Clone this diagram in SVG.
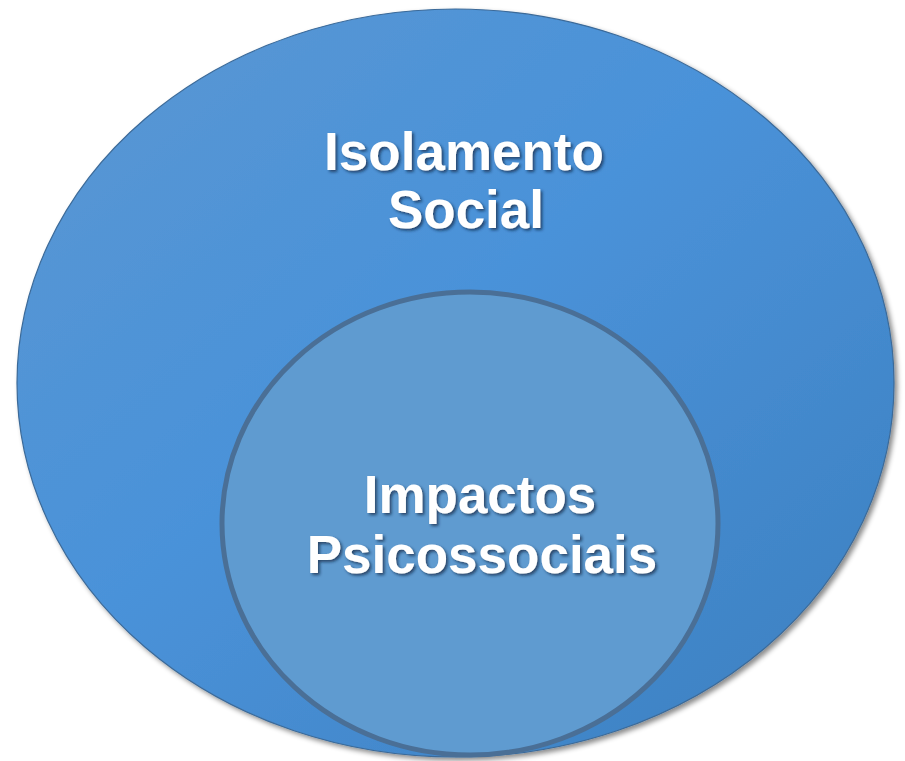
<svg xmlns="http://www.w3.org/2000/svg" width="905" height="761" viewBox="0 0 905 761">
  <defs>
    <linearGradient id="outerGrad" x1="0" y1="0" x2="1" y2="1">
      <stop offset="0" stop-color="#5a97d2"/>
      <stop offset="0.45" stop-color="#4a92d9"/>
      <stop offset="1" stop-color="#3c7fbf"/>
    </linearGradient>
    <filter id="shadow" x="-10%" y="-10%" width="120%" height="120%">
      <feDropShadow dx="3" dy="3" stdDeviation="2.5" flood-color="#000" flood-opacity="0.45"/>
    </filter>
    <filter id="textShadow" x="-10%" y="-20%" width="120%" height="140%">
      <feDropShadow dx="2" dy="2" stdDeviation="1.5" flood-color="#0b2440" flood-opacity="0.7"/>
    </filter>
  </defs>
  <style>
    .label { font-family: "Liberation Sans", Arial, sans-serif; font-weight: bold; font-size: 53px; fill: #ffffff; text-anchor: middle; }
  </style>
  <g id="isolamento-social">
    <ellipse cx="455.5" cy="383" rx="438.5" ry="374" fill="url(#outerGrad)" stroke="#3b6a99" stroke-width="1.2" filter="url(#shadow)"/>
    <g filter="url(#textShadow)">
      <text class="label" x="464" y="170">Isolamento</text>
      <text class="label" x="466" y="228">Social</text>
    </g>
  </g>
  <g id="impactos-psicossociais">
    <ellipse cx="470" cy="523.5" rx="248" ry="231.5" fill="#5f9bd0" stroke="#4a6f96" stroke-width="5"/>
    <g filter="url(#textShadow)">
      <text class="label" x="480" y="513">Impactos</text>
      <text class="label" x="482" y="573">Psicossociais</text>
    </g>
  </g>
  <g id="connectors"/>
</svg>
